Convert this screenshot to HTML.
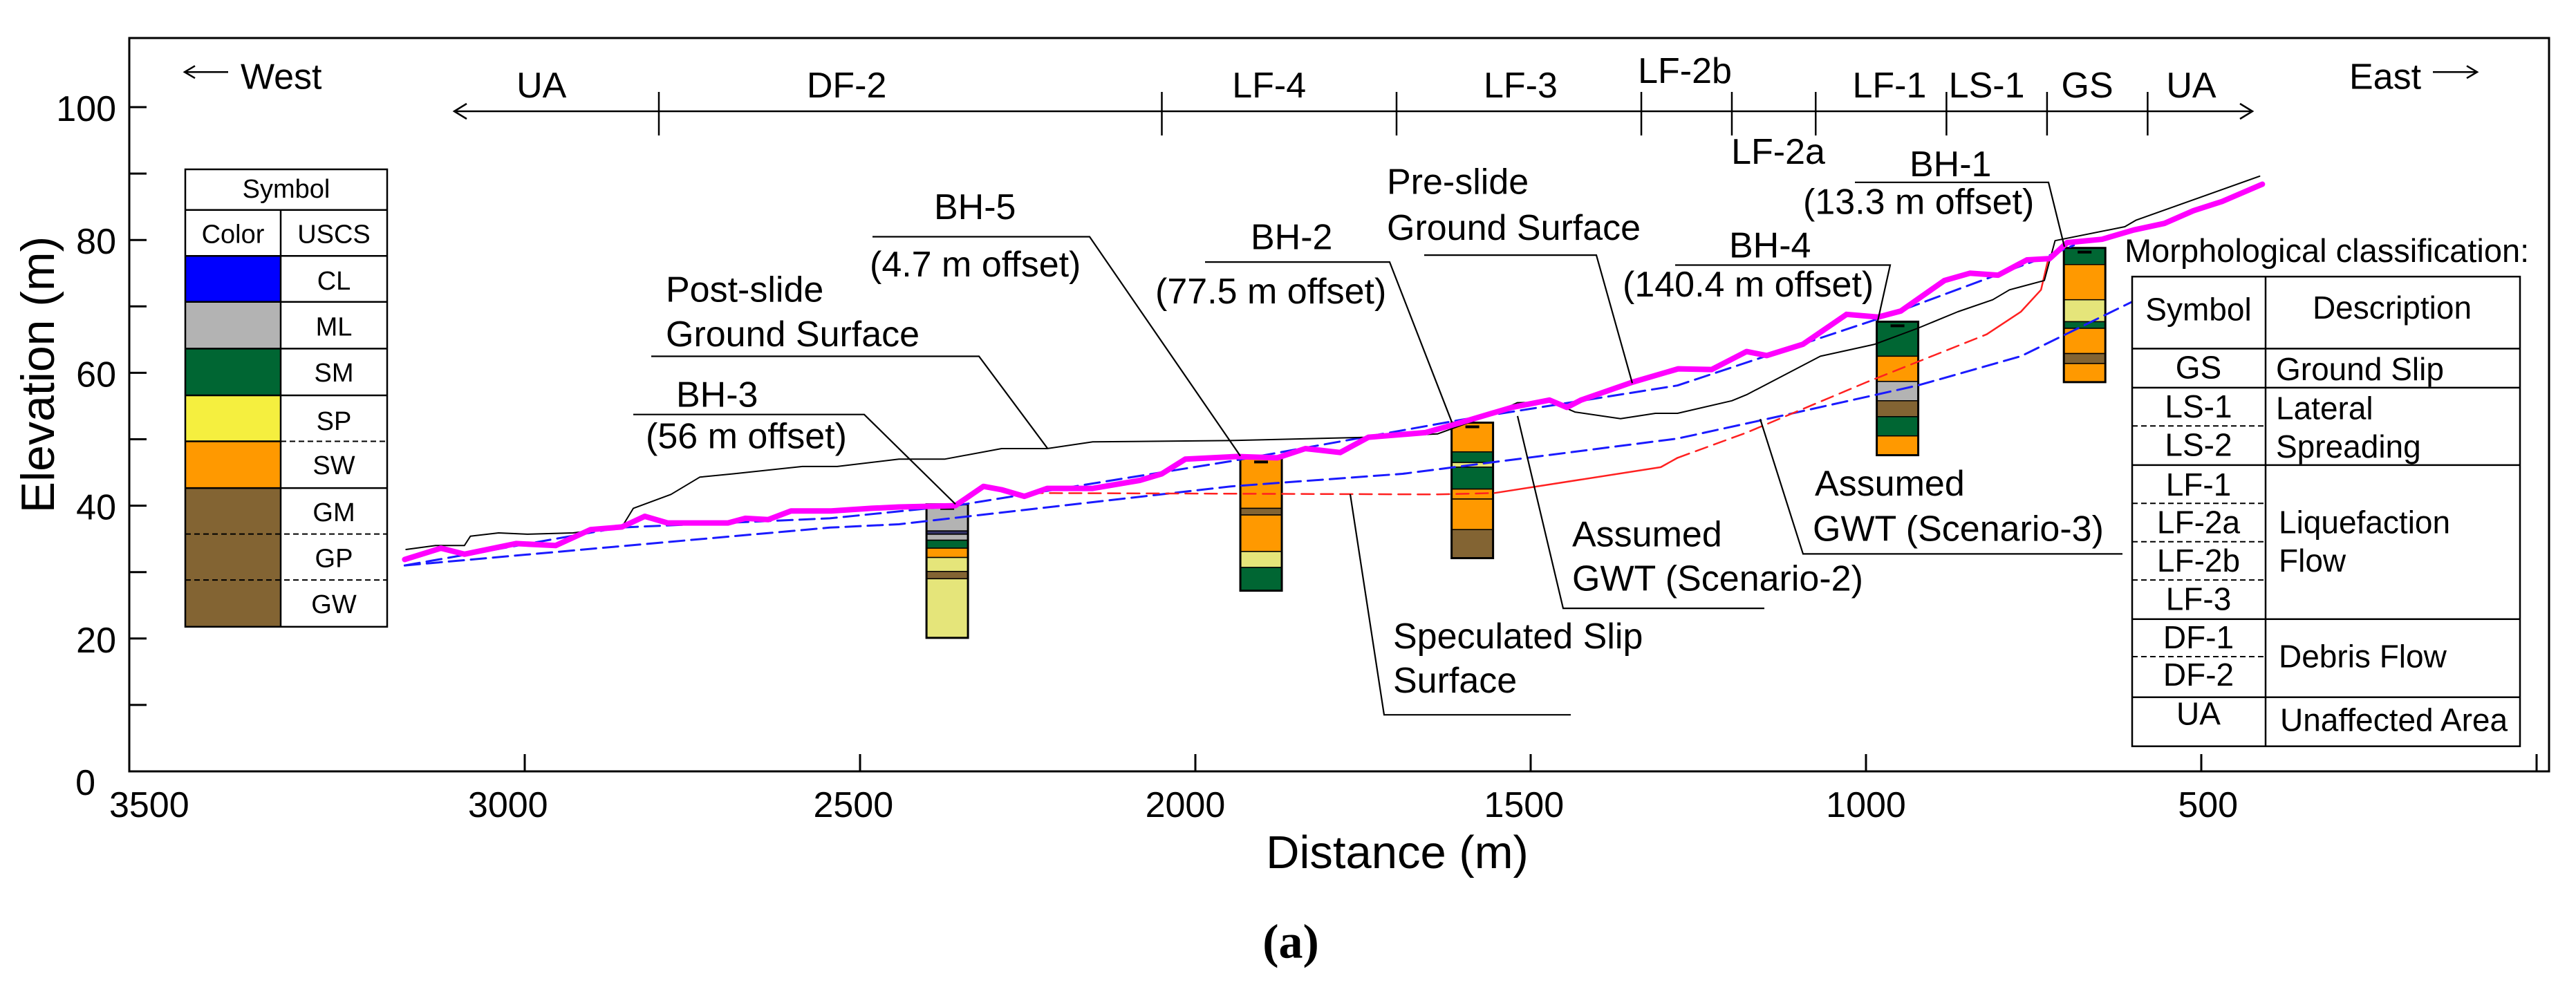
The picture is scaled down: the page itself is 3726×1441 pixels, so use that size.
<!DOCTYPE html>
<html><head><meta charset="utf-8">
<style>
html,body{margin:0;padding:0;background:#fff;}
svg{display:block;font-family:"Liberation Sans",Arial,sans-serif;}
</style></head>
<body>
<svg id="chart" xmlns="http://www.w3.org/2000/svg" width="3726" height="1441" viewBox="0 0 3726 1441">
<rect x="0" y="0" width="3726" height="1441" fill="#fff"/>
<g id="marks"></g>
</svg>
<script>
// ---- data ----
const preDist = [3179,3125,3090,3013,2954,2902,2855,2821,2787,2697,2671,2637,2603,2543,2483,2442,2358,2316,2289,2255,2221,2153,2083,2050,2015,1938,1878,1836,1784,1742,1657,1618,1528,1472,1446,1425,1348,1280,1230,1178,1148,1094,1029,982,948,883,845,803,760,726,700,648,601,555,512,469,409];
const preElev = [31.9,33.6,32.7,34.3,34.0,36.4,36.8,38.4,37.4,37.4,38.1,37.9,39.2,39.2,39.6,39.8,40.0,42.9,42.4,41.4,42.6,42.6,43.8,44.8,47.0,47.4,47.2,48.6,48.0,50.3,51.0,52.1,54.8,55.9,54.8,55.9,58.6,60.6,60.5,63.2,62.6,64.3,68.8,68.4,69.3,73.9,75.0,74.7,77.0,77.2,79.6,80.1,81.5,82.5,84.4,85.8,88.4];
const postDist = [3177,3133,3090,3081,3039,2996,2928,2855,2838,2782,2739,2689,2586,2534,2442,2374,2289,2221,2153,1947,1742,1639,1554,1520,1468,1434,1366,1314,1281,1200,1178,1068,987,923,863,811,786,734,718,614,597,413];
const postElev = [33.4,34.0,34.0,35.4,35.9,35.7,35.9,36.8,39.6,41.7,44.3,44.8,45.9,45.9,47.0,47.0,48.6,48.6,49.6,49.8,50.3,50.8,53.9,55.5,55.6,54.1,53.1,53.9,53.9,55.8,56.7,62.5,64.3,66.7,69.2,71.0,72.5,73.9,79.9,82.0,83.0,89.6];
const gwt2Dist = [3179,2859,2545,2358,1947,1605,1281,974,726,690];
const gwt2Elev = [31.0,36.7,38.1,40.0,46.7,52.9,58.1,68.4,77.7,79.2];
const gwt3Dist = [3179,2545,2442,1947,1691,1281,1154,923,769,597];
const gwt3Elev = [31.0,36.7,37.2,42.9,44.8,50.1,52.9,58.1,62.5,71.0];
const slipDashDist = [2246,1639,1554];
const slipDashElev = [41.9,41.7,41.9];
const slipSolidDist = [1554,1306,1281];
const slipSolidElev = [41.9,45.8,47.2];
const slipDash2Dist = [1281,1178,999,820];
const slipDash2Elev = [47.2,51.0,58.6,65.8];
const slipSolid2Dist = [820,769,739,728];
const slipSolid2Elev = [65.8,69.2,72.5,77.2];
const xTicks = [3000,2500,2000,1500,1000,500,0];
const xTickLabels = ["3500","3000","2500","2000","1500","1000","500"];
const xLabelDist = [3560,3025,2510,2015,1510,1000,490];
const yTicks = [0,10,20,30,40,50,60,70,80,90,100];
const yTickLabels = ["0","20","40","60","80","100"];
const yLabelVals = [0,20,40,60,80,100];
const zoneBounds = [2800,2050,1700,1335,1200,1075,880,730,580];
const zoneNames = ["UA","DF-2","LF-4","LF-3","LF-1","LS-1","GS","UA"];
const zoneCenters = [2975,2520,1890,1515,965,820,670,515];
const bhNames = ["BH-3","BH-5","BH-2","BH-4","BH-1"];
const bhDist = [2370,1902,1587,953,674];
const bhTops = [40.2,47.2,52.5,67.7,78.8];
const bhLayers = [
 [36.2,35.7,34.8,33.6,32.2,30.1,29.0,20.1],
 [39.6,38.6,33.1,30.7,27.2],
 [48.1,46.5,45.8,42.5,41.0,36.4,32.1],
 [62.5,58.7,55.8,53.4,50.5,47.6],
 [76.3,71.0,67.7,66.7,62.9,61.4,58.6]
];
const bhColors = [
 ["#b3b3b3","#333366","#b3b3b3","#006633","#ff9900","#e5e57a","#836433","#e5e57a"],
 ["#ff9900","#836433","#ff9900","#e5e57a","#006633"],
 ["#ff9900","#006633","#e5e57a","#006633","#ff9900","#ff9900","#836433"],
 ["#006633","#ff9900","#b3b3b3","#836433","#006633","#ff9900"],
 ["#006633","#ff9900","#e5e57a","#006633","#ff9900","#836433","#ff9900"]
];
// ---- scales ----
function xs(d){return 759+(3000-d)*0.97;}
function ys(e){return 1116-e*9.61;}
const NS="http://www.w3.org/2000/svg";
const marks=document.getElementById('marks');
function el(tag,attrs,parent){const e=document.createElementNS(NS,tag);for(const k in attrs)e.setAttribute(k,attrs[k]);(parent||marks).appendChild(e);return e;}
function txt(s,x,y,size,anchor,parent){const t=el('text',{x:x,y:y,'font-size':size,'text-anchor':anchor||'start',fill:'#000'},parent);t.textContent=s;return t;}
function line(dArr,eArr,stroke,w,dash,name){
  const pts=dArr.map((d,i)=>xs(d).toFixed(1)+','+ys(eArr[i]).toFixed(1)).join(' ');
  const p=el('polyline',{points:pts,fill:'none',stroke:stroke,'stroke-width':w,'stroke-linejoin':'round','stroke-linecap':'round'});
  if(dash)p.setAttribute('stroke-dasharray',dash);
  
  
  return p;
}
const frame=el('rect',{x:187,y:55,width:3500,height:1061,fill:'none',stroke:'#000','stroke-width':3});


yTicks.forEach(v=>{const t=el('line',{x1:187,x2:212,y1:ys(v),y2:ys(v),stroke:'#000','stroke-width':3});
 
 });
yLabelVals.forEach((v,i)=>{const t=txt(yTickLabels[i],v===0?138:168,v===0?1150:ys(v)+20,52,'end');
 
 });
xTicks.forEach(v=>{const t=el('line',{x1:xs(v),x2:xs(v),y1:1116,y2:1091,stroke:'#000','stroke-width':3});
 
 });
xLabelDist.forEach((v,i)=>{const t=txt(xTickLabels[i],xs(v),1182,52,'middle');
 
 });
const zb=el('line',{x1:660,x2:3255,y1:161,y2:161,stroke:'#000','stroke-width':2.5});


el('polyline',{points:'675,150 657,161 675,172',fill:'none',stroke:'#000','stroke-width':2.5});
el('polyline',{points:'3240,150 3258,161 3240,172',fill:'none',stroke:'#000','stroke-width':2.5});
zoneBounds.forEach(b=>{const t=el('line',{x1:xs(b),x2:xs(b),y1:133,y2:196,stroke:'#000','stroke-width':2.5});
 
 });
zoneNames.forEach((n,i)=>{const t=txt(n,xs(zoneCenters[i]),141,52,'middle');
 
 });
const z2b=txt('LF-2b',2437,120,52,'middle');


const z2a=txt('LF-2a',2572,237,52,'middle');


bhDist.forEach((d,i)=>{
  const g=el('g',{});
  
  
  const x0=xs(d)-30;let prev=bhTops[i];
  bhLayers[i].forEach((b,j)=>{el('rect',{x:x0,y:ys(prev),width:60,height:ys(b)-ys(prev),fill:bhColors[i][j],stroke:'#000','stroke-width':1.5},g);prev=b;});
  el('rect',{x:x0,y:ys(bhTops[i]),width:60,height:ys(prev)-ys(bhTops[i]),fill:'none',stroke:'#000','stroke-width':3},g);
  el('line',{x1:x0+20,x2:x0+40,y1:ys(bhTops[i])+6,y2:ys(bhTops[i])+6,stroke:'#000','stroke-width':4},g);
});
line(gwt3Dist,gwt3Elev,'#1a1aff',3,'22,10','gwt-scenario-3');
line(gwt2Dist,gwt2Elev,'#1a1aff',3,'22,10','gwt-scenario-2');
line(slipDashDist,slipDashElev,'#ff2020',2.5,'18,10','slip-surface-dashed');
line(slipSolidDist,slipSolidElev,'#ff2020',2.5,null,'slip-surface-solid');
line(slipDash2Dist,slipDash2Elev,'#ff2020',2.5,'18,10','slip-surface-dashed-upper');
line(slipSolid2Dist,slipSolid2Elev,'#ff2020',2.5,null,'slip-surface-solid-upper');
line(postDist,postElev,'#000',2,null,'post-slide-ground-surface');
line(preDist,preElev,'#ff00ff',8,null,'pre-slide-ground-surface');
</script>
<svg id="anno" style="position:absolute;left:0;top:0" width="3726" height="1441" xmlns="http://www.w3.org/2000/svg">
<text x="60" y="542" font-size="68" text-anchor="middle" transform="rotate(-90 60 542)" dominant-baseline="middle" font-family="Liberation Sans, Arial, sans-serif">Elevation (m)</text>
<g class="sy" font-family="Liberation Sans, Arial, sans-serif" font-size="52" fill="#000">
 <text x="2021" y="1133" font-size="67" text-anchor="middle">Distance (m)</text>
 <text x="1867" y="1250" font-size="70" font-weight="bold" font-family="Liberation Serif, serif" text-anchor="middle">(a)</text>
 <g><line x1="268" y1="94" x2="330" y2="94" stroke="#000" stroke-width="2.5"/><polyline points="282,86 267,94 282,102" fill="none" stroke="#000" stroke-width="2.5"/><text x="348" y="116">West</text></g>
 <g><text x="3398" y="116">East</text><line x1="3519" y1="94" x2="3583" y2="94" stroke="#000" stroke-width="2.5"/><polyline points="3568,86 3583,94 3568,102" fill="none" stroke="#000" stroke-width="2.5"/></g>
 <g fill="none" stroke="#000" stroke-width="2.2">
  <polyline points="942,465 1416,465 1515,585"/>
  <polyline points="916,541 1250,541 1382,658"/>
  <polyline points="1262,309 1576,309 1794,595"/>
  <polyline points="1743,342 2010,342 2100,551"/>
  <polyline points="2060,333 2309,333 2361,500"/>
  <polyline points="1953,645 2002,933 2272,933"/>
  <polyline points="2195,543 2261,794 2552,794"/>
  <polyline points="2546,547 2608,723 3070,723"/>
  <polyline points="2423,346 2734,346 2716,419"/>
  <polyline points="2683,238 2963,238 2986,322"/>
 </g>
 <text x="963" y="394">Post-slide</text>
 <text x="963" y="452">Ground Surface</text>
 <text x="978" y="531">BH-3</text>
 <text x="934" y="585">(56 m offset)</text>
 <text x="1351" y="286">BH-5</text>
 <text x="1258" y="361">(4.7 m offset)</text>
 <text x="1809" y="325">BH-2</text>
 <text x="1671" y="396">(77.5 m offset)</text>
 <text x="2006" y="253">Pre-slide</text>
 <text x="2006" y="313">Ground Surface</text>
 <text x="2015" y="846">Speculated Slip</text>
 <text x="2015" y="904">Surface</text>
 <text x="2274" y="713">Assumed</text>
 <text x="2274" y="771">GWT (Scenario-2)</text>
 <text x="2625" y="647">Assumed</text>
 <text x="2622" y="706">GWT (Scenario-3)</text>
 <text x="2501" y="336">BH-4</text>
 <text x="2347" y="387">(140.4 m offset)</text>
 <text x="2762" y="230">BH-1</text>
 <text x="2608" y="279">(13.3 m offset)</text>
</g>
<g class="sy" font-family="Liberation Sans, Arial, sans-serif" font-size="38" text-anchor="middle">
 <rect x="268" y="334" width="138" height="60" fill="#0000ff"/>
 <rect x="268" y="394" width="138" height="61" fill="#b3b3b3"/>
 <rect x="268" y="455" width="138" height="61" fill="#006633"/>
 <rect x="268" y="516" width="138" height="60" fill="#f5ef3f"/>
 <rect x="268" y="576" width="138" height="61" fill="#ff9900"/>
 <rect x="268" y="637" width="138" height="181" fill="#836433"/>
 <g stroke="#000" stroke-width="2.5" fill="none">
  <rect x="268" y="221" width="292" height="597"/>
  <line x1="268" y1="274" x2="560" y2="274"/>
  <line x1="406" y1="274" x2="406" y2="818"/>
  <line x1="268" y1="334" x2="560" y2="334"/>
  <line x1="268" y1="394" x2="560" y2="394"/>
  <line x1="268" y1="455" x2="560" y2="455"/>
  <line x1="268" y1="516" x2="560" y2="516"/>
  <line x1="406" y1="576" x2="560" y2="576" stroke-dasharray="8,5" stroke-width="2"/>
  <line x1="268" y1="576" x2="406" y2="576"/>
  <line x1="268" y1="637" x2="560" y2="637"/>
  <line x1="268" y1="697" x2="560" y2="697" stroke-dasharray="8,5" stroke-width="2"/>
  <line x1="268" y1="757" x2="560" y2="757" stroke-dasharray="8,5" stroke-width="2"/>
 </g>
 <text x="414" y="258">Symbol</text>
 <text x="337" y="317">Color</text>
 <text x="483" y="317">USCS</text>
 <text x="483" y="378">CL</text>
 <text x="483" y="438">ML</text>
 <text x="483" y="498">SM</text>
 <text x="483" y="561">SP</text>
 <text x="483" y="619">SW</text>
 <text x="483" y="680">GM</text>
 <text x="483" y="740">GP</text>
 <text x="483" y="800">GW</text>
</g>
<g class="sy" font-family="Liberation Sans, Arial, sans-serif" font-size="46">
 <rect x="3084" y="361" width="561" height="613" fill="#fff" stroke="#000" stroke-width="2.5"/>
 <text x="3073" y="342" font-size="47">Morphological classification:</text>
 <g stroke="#000" stroke-width="2.5">
  <line x1="3277" y1="361" x2="3277" y2="974"/>
  <line x1="3084" y1="455" x2="3645" y2="455"/>
  <line x1="3084" y1="506" x2="3645" y2="506"/>
  <line x1="3084" y1="607" x2="3645" y2="607"/>
  <line x1="3084" y1="808" x2="3645" y2="808"/>
  <line x1="3084" y1="910" x2="3645" y2="910"/>
 </g>
 <g stroke="#000" stroke-width="2" stroke-dasharray="8,5">
  <line x1="3084" y1="556" x2="3277" y2="556"/>
  <line x1="3084" y1="657" x2="3277" y2="657"/>
  <line x1="3084" y1="707" x2="3277" y2="707"/>
  <line x1="3084" y1="757" x2="3277" y2="757"/>
  <line x1="3084" y1="857" x2="3277" y2="857"/>
 </g>
 <g text-anchor="middle">
  <text x="3180" y="418">Symbol</text>
  <text x="3460" y="416">Description</text>
  <text x="3180" y="494">GS</text>
  <text x="3180" y="545">LS-1</text>
  <text x="3180" y="595">LS-2</text>
  <text x="3180" y="647">LF-1</text>
  <text x="3180" y="696">LF-2a</text>
  <text x="3180" y="746">LF-2b</text>
  <text x="3180" y="796">LF-3</text>
  <text x="3180" y="846">DF-1</text>
  <text x="3180" y="895">DF-2</text>
  <text x="3180" y="946">UA</text>
 </g>
 <text x="3292" y="496">Ground Slip</text>
 <text x="3292" y="547">Lateral</text>
 <text x="3292" y="597">Spreading</text>
 <text x="3296" y="696">Liquefaction</text>
 <text x="3296" y="746">Flow</text>
 <text x="3296" y="871">Debris Flow</text>
 <text x="3298" y="954">Unaffected Area</text>
</g>
</svg>
<script>
// annotation coordinates were measured at a vertical scale of 1/1.1085; rescale y
(function(){
  const k=1.1085;
  document.querySelectorAll('#anno .sy *').forEach(n=>{
    ['y','y1','y2','height'].forEach(a=>{
      if(n.hasAttribute(a)) n.setAttribute(a,(parseFloat(n.getAttribute(a))*k).toFixed(1));
    });
    if(n.tagName==='polyline'){
      const pts=n.getAttribute('points').trim().split(/\s+/).map(p=>{const q=p.split(',');return q[0]+','+(parseFloat(q[1])*k).toFixed(1);});
      n.setAttribute('points',pts.join(' '));
    }
  });
})();
</script>
</body></html>
